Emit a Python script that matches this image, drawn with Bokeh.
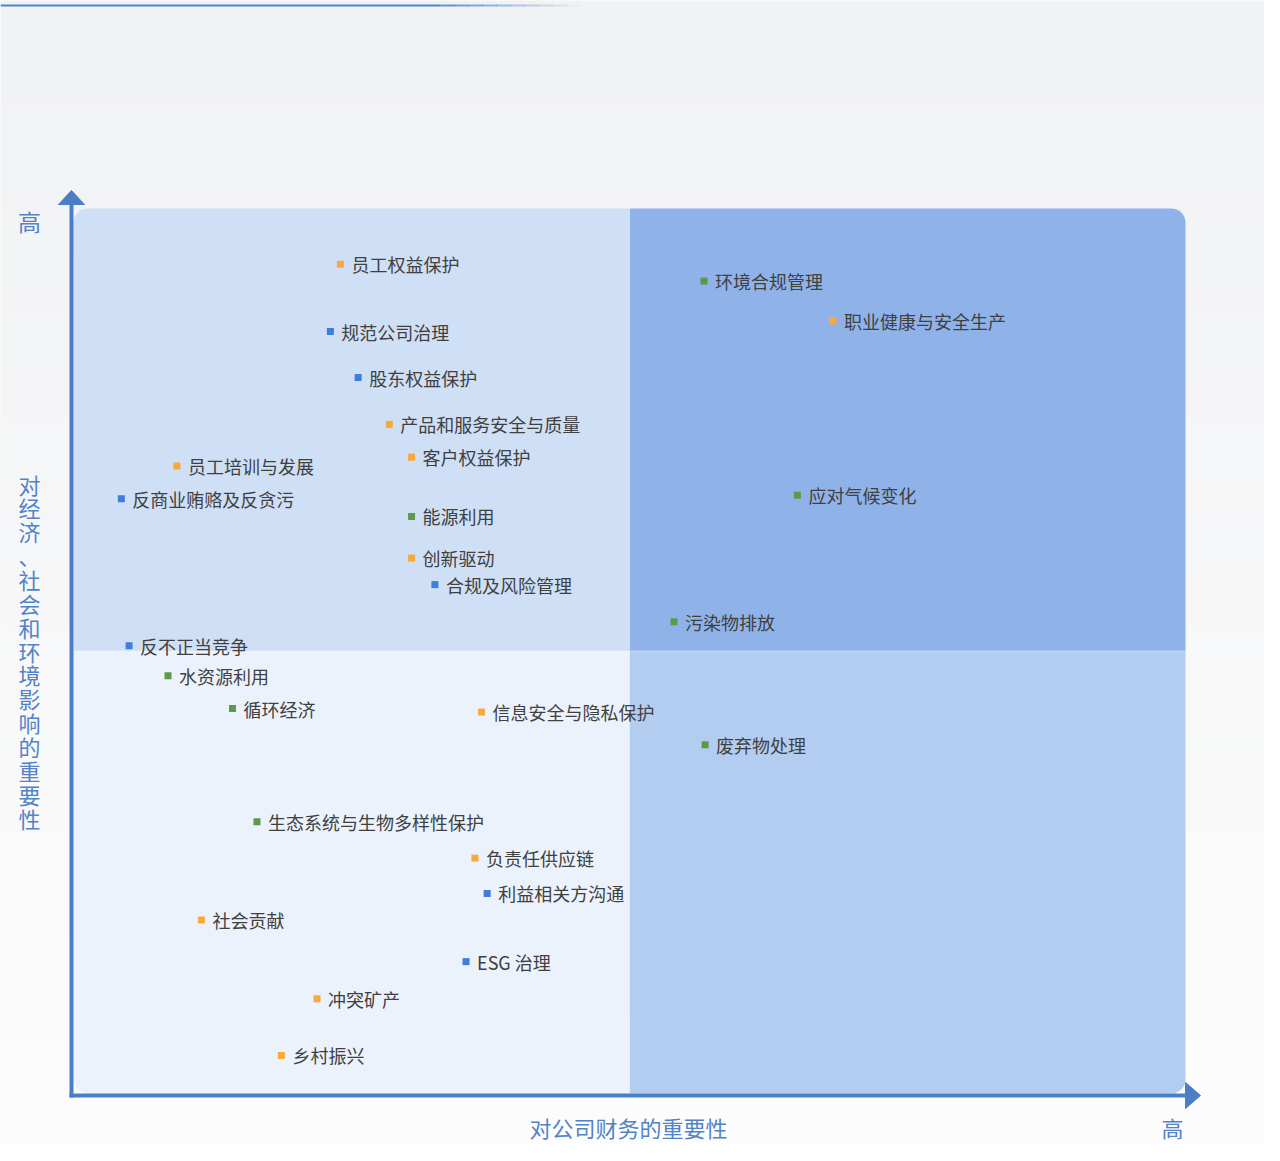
import numpy as np
from bokeh.plotting import figure
from bokeh.models import ColumnDataSource, Range1d
from bokeh.core.properties import value
from bokeh.embed import file_html
from bokeh.resources import INLINE

# ---------------- data ----------------
topics = ["员工权益保护", "规范公司治理", "股东权益保护", "产品和服务安全与质量", "客户权益保护",
          "员工培训与发展", "反商业贿赂及反贪污", "能源利用", "创新驱动", "合规及风险管理",
          "反不正当竞争", "水资源利用", "循环经济", "信息安全与隐私保护", "生态系统与生物多样性保护",
          "负责任供应链", "利益相关方沟通", "社会贡献", "ESG 治理", "冲突矿产", "乡村振兴",
          "环境合规管理", "职业健康与安全生产", "应对气候变化", "污染物排放", "废弃物处理"]
financial = [24.0, 23.1, 25.6, 28.4, 30.4, 9.3, 4.3, 30.4, 30.4, 32.5,
             5.0, 8.5, 14.3, 36.7, 16.5, 36.1, 37.2, 11.5, 35.3, 21.9, 18.7,
             56.7, 68.3, 65.1, 54.0, 56.8]
impact = [93.7, 86.1, 80.9, 75.6, 71.9, 70.9, 67.2, 65.2, 60.5, 57.5,
          50.6, 47.2, 43.5, 43.1, 30.7, 26.6, 22.6, 19.6, 14.9, 10.7, 4.3,
          91.8, 87.3, 67.6, 53.3, 39.4]
group = ["社会", "治理", "治理", "社会", "社会", "社会", "治理", "环境", "社会", "治理",
         "治理", "环境", "环境", "社会", "环境", "社会", "治理", "社会", "治理", "社会", "社会",
         "环境", "社会", "环境", "环境", "环境"]
group_colors = {"环境": "#5b9a4b", "社会": "#f7a93b", "治理": "#3f7fd9"}

x_title = "对公司财务的重要性"
y_title = "对经济、社会和环境影响的重要性"
high_label = "高"

# ---------------- figure ----------------
W, H = 1264, 1145
SX, SY = 11.12, 8.85          # pixels per data unit
X0, X1 = -73 / SX, (W - 73) / SX
Y0, Y1 = (1093 - H) / SY, 1093 / SY
FONT = "Noto Sans CJK SC"
AX = "#4a7ec6"
TITLE_C = "#5283c8"


def py(fy):
    return (1093 - fy) / SY


def px(fx):
    return (fx - 73) / SX


p = figure(width=W, height=H, x_range=Range1d(X0, X1), y_range=Range1d(Y0, Y1),
           output_backend="svg", toolbar_location=None,
           x_axis_location=None, y_axis_location=None, min_border=0,
           outline_line_color=None, background_fill_color="#f6f7f8",
           border_fill_color="#f6f7f8")
p.grid.visible = False

# background vertical gradient
n = 256
t = np.linspace(0, 1, n)
top = np.array([241, 242, 244])
bot = np.array([253, 253, 253])
cols = (bot + (top - bot) * t[:, None]).astype(np.uint8)
img = np.zeros((n, 1), dtype=np.uint32)
view = img.view(dtype=np.uint8).reshape((n, 1, 4))
view[:, 0, 0] = cols[:, 0]
view[:, 0, 1] = cols[:, 1]
view[:, 0, 2] = cols[:, 2]
view[:, 0, 3] = 255
p.image_rgba(image=[img], x=X0, y=Y0, dw=X1 - X0, dh=Y1 - Y0)

# top decorative line
ly = py(5)
p.line(x=[X0, px(440)], y=[ly, ly], line_width=2, color="#4a86d0")
steps = 10
seg = (px(580) - px(440)) / steps
for i, a in enumerate(np.linspace(0.85, 0.05, steps)):
    xs = px(440) + i * seg
    p.line(x=[xs, xs + seg * 1.05], y=[ly, ly], line_width=2, color="#4a86d0", alpha=float(a))


# quadrants (rounded outer corners)
def rounded(l, r, b, t, tl=0, tr=0, br=0, bl=0, m=12):
    xs, ys = [], []

    def corner(cx, cy, rad, a0, a1, qx, qy):
        if rad == 0:
            xs.append(qx)
            ys.append(qy)
            return
        for a in np.linspace(a0, a1, m):
            xs.append(cx + rad / SX * np.cos(a))
            ys.append(cy + rad / SY * np.sin(a))

    corner(l + tl / SX, t - tl / SY, tl, np.pi / 2, np.pi, l, t)
    corner(l + bl / SX, b + bl / SY, bl, np.pi, 1.5 * np.pi, l, b)
    corner(r - br / SX, b + br / SY, br, 1.5 * np.pi, 2 * np.pi, r, b)
    corner(r - tr / SX, t - tr / SY, tr, 0, np.pi / 2, r, t)
    return xs, ys


R = 14
quads = [((0, 50, 50, 100), "#cfdff5", dict(tl=R)),
         ((50, 100, 50, 100), "#8fb3e9", dict(tr=R)),
         ((0, 50, 0, 50), "#ebf2fc", dict(bl=R)),
         ((50, 100, 0, 50), "#b3cdf1", dict(br=R))]
for (l, r, b, tp), c, rad in quads:
    xs, ys = rounded(l, r, b, tp, **rad)
    p.patch(x=xs, y=ys, fill_color=c, line_color=None)
p.segment(x0=[50, 0], y0=[0, 50], x1=[50, 100], y1=[100, 50],
          color="white", alpha=0.35, line_width=1)

# axes with arrows
p.line(x=[px(71), px(71)], y=[py(1097), py(203)], line_width=4, color=AX)
p.line(x=[px(69), px(1186)], y=[py(1095), py(1095)], line_width=4, color=AX)
p.patch(x=[px(71), px(58), px(84)], y=[py(190), py(204), py(204)], color=AX)
p.patch(x=[px(1200), px(1185), px(1185)], y=[py(1095), py(1082), py(1108)], color=AX)

# axis texts
BOT = 1126
p.text(x=[px(29)], y=[py(220)], text=[high_label],
       text_font=value(FONT), text_font_size="23px", text_color=TITLE_C,
       text_align="center", text_baseline="middle")
p.text(x=[px(1172)], y=[py(BOT)], text=[high_label],
       text_font=value(FONT), text_font_size="22px", text_color=TITLE_C,
       text_align="center", text_baseline="middle")
p.text(x=[px(628)], y=[py(BOT)], text=[x_title], text_font=value(FONT),
       text_font_size="22px", text_color=TITLE_C, text_align="center",
       text_baseline="middle")
chars = list(y_title)
p.text(x=[px(29)] * len(chars), y=[py(483 + 23.86 * i) for i in range(len(chars))],
       text=chars, text_font=value(FONT), text_font_size="22px", text_color=TITLE_C,
       text_align="center", text_baseline="middle")

# points
src = ColumnDataSource(dict(x=financial, y=impact, name=topics,
                            color=[group_colors[g] for g in group]))
p.scatter(x="x", y="y", source=src, marker="square", size=7,
          fill_color="color", line_color=None)
p.text(x="x", y="y", text="name", source=src, x_offset=11,
       text_font=value(FONT), text_font_size="18px", text_color="#404040",
       text_baseline="middle", text_align="left")

open("out.html", "w").write(file_html(p, INLINE))
